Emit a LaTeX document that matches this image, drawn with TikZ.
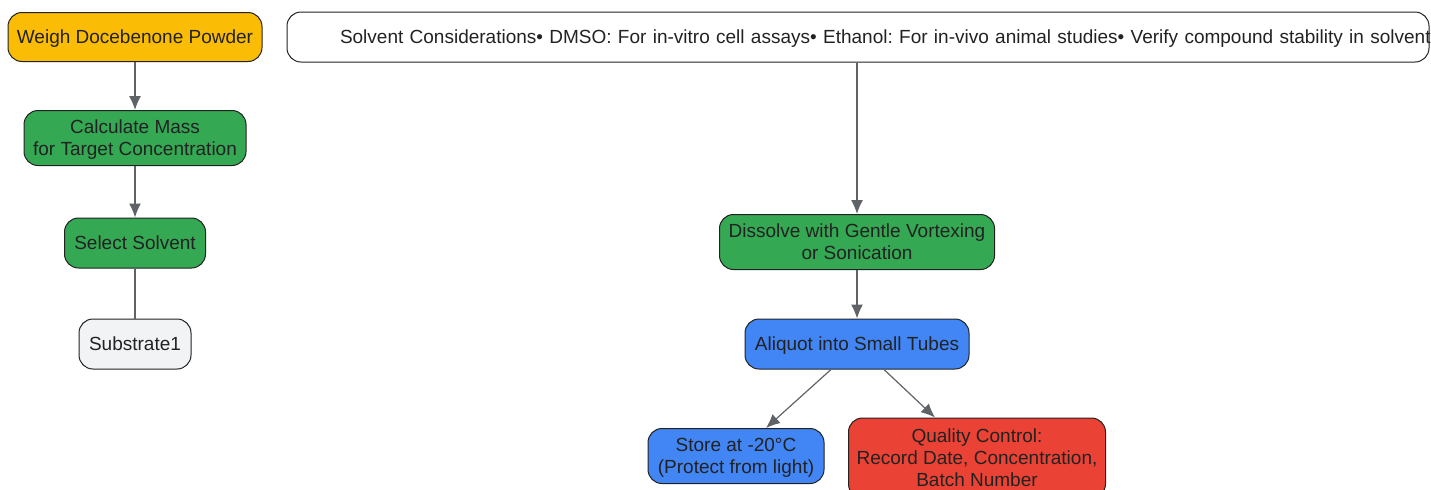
\documentclass[tikz,border=0pt]{standalone}
\usepackage{fontspec}
\setmainfont{Liberation Sans}
\frenchspacing
\usetikzlibrary{arrows.meta,positioning}
\definecolor{stepyellow}{HTML}{FBBC05}
\definecolor{stepgreen}{HTML}{34A853}
\definecolor{stepblue}{HTML}{4285F4}
\definecolor{stepred}{HTML}{EA4335}
\definecolor{stepgray}{HTML}{F1F3F4}
\definecolor{edgegray}{HTML}{5F6368}
\definecolor{inkdark}{HTML}{222222}
\tikzset{>={Latex[width=6pt,length=7pt]}}
\tikzset{box/.style={shape=rectangle, rounded corners=7pt, draw=inkdark, line width=0.5pt,
    text=inkdark, font=\fontsize{9.5}{11}\selectfont, align=center, inner sep=0pt, text depth=0pt}}
\tikzset{flow/.style={->, draw=edgegray, fill=edgegray, line width=0.6pt}}
\tikzset{link/.style={-, draw=edgegray, line width=0.6pt}}

\begin{document}
\begin{tikzpicture}[x=0.5pt, y=-0.5pt]
  \useasboundingbox (0,0) rectangle (1431,489);
  \clip (0,0) rectangle (1431,489);

    %%%% Left column
    \node[box, fill=stepyellow, minimum width=127pt, minimum height=24.5pt](weigh) at (135,37) {Weigh Docebenone Powder};
    \node[box, fill=stepgreen, minimum width=111pt, minimum height=27.5pt](calc) at (135,138) {Calculate Mass\\for Target Concentration};
    \node[box, fill=stepgreen, minimum width=70.5pt, minimum height=25pt](select) at (135,243) {Select Solvent};
    \node[box, fill=stepgray, minimum width=56pt, minimum height=25pt](sub) at (135,344) {Substrate1};

    %%%% Right column
    \node[box, fill=white, minimum width=571pt, minimum height=25pt, text width=518pt, align=left, inner xsep=26.5pt](cons) at (858,37)
      {\mbox{Solvent Considerations• DMSO: For in-vitro cell assays• Ethanol: For in-vivo animal studies• Verify compound stability in solvent}};
    \node[box, fill=stepgreen, minimum width=137.5pt, minimum height=27.5pt](dissolve) at (857,242) {Dissolve with Gentle Vortexing\\or Sonication};
    \node[box, fill=stepblue, minimum width=112pt, minimum height=25pt](aliquot) at (857,344) {Aliquot into Small Tubes};
    \node[box, fill=stepblue, minimum width=88pt, minimum height=27.5pt](store) at (736,456) {Store at -20°C\\(Protect from light)};
    \node[box, fill=stepred, minimum width=128.5pt, minimum height=40pt](qc) at (977,458) {Quality Control:\\Record Date, Concentration,\\Batch Number};

    %%%% Edges
    \draw [flow] (weigh) to (calc);
    \draw [flow] (calc) to (select);
    \draw [link] (select) to (sub);
    \draw [flow] (cons.south -| dissolve.north) to (dissolve.north);
    \draw [flow] (dissolve) to (aliquot);
    \draw [flow] ([xshift=-13pt]aliquot.south) to ([xshift=15pt]store.north);
    \draw [flow] ([xshift=13.5pt]aliquot.south) to ([xshift=-21pt]qc.north);

\end{tikzpicture}
\end{document}
